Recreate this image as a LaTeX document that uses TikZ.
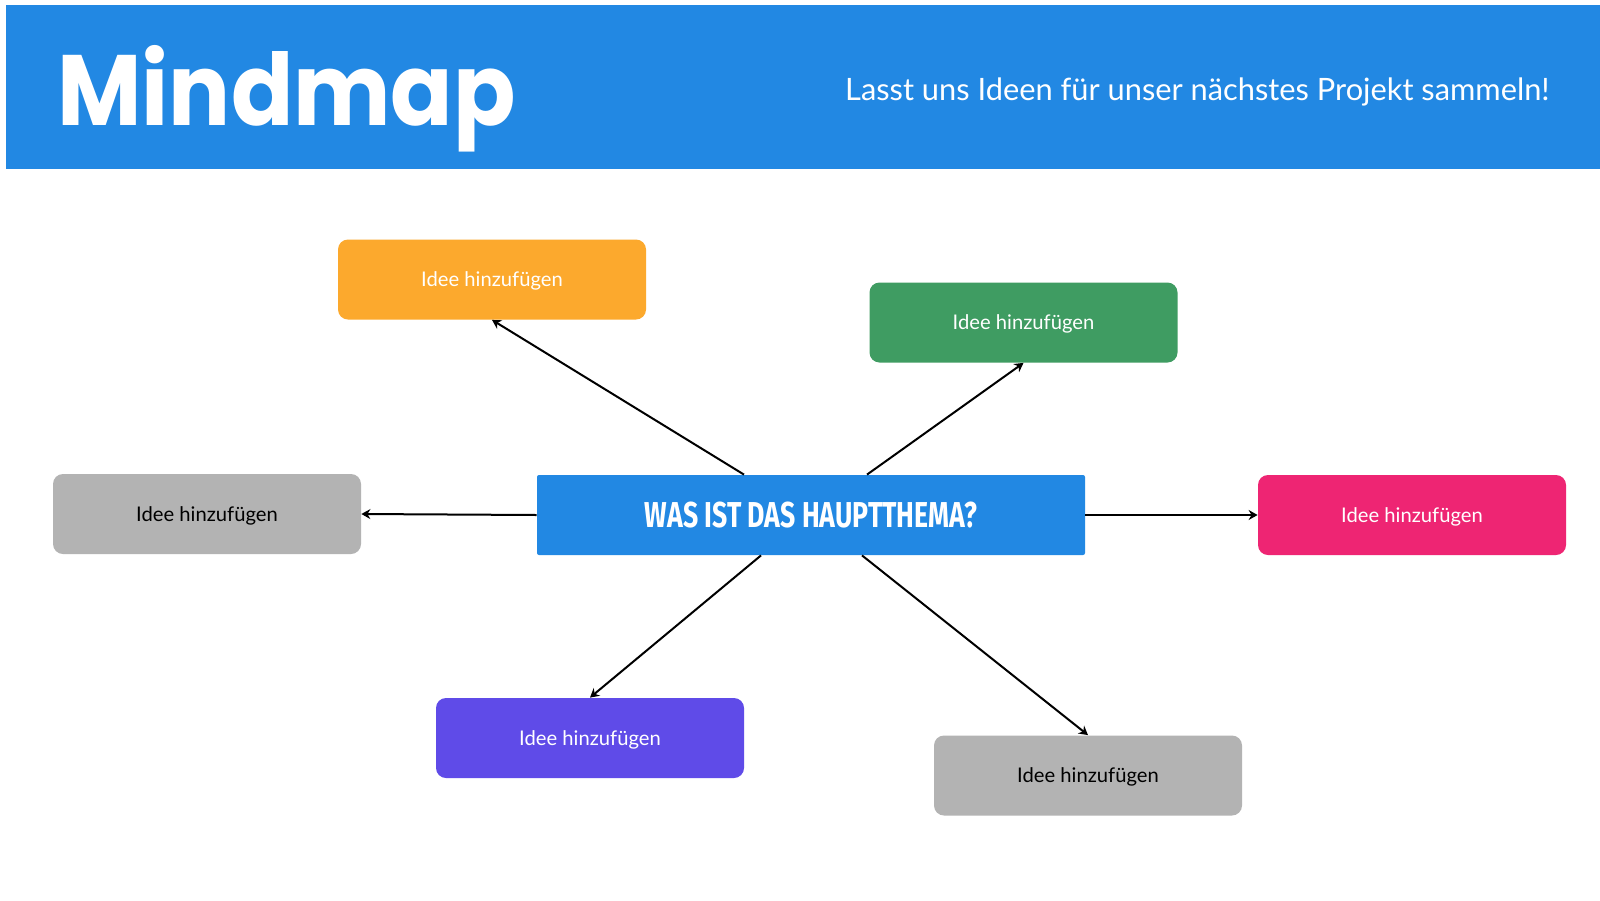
\documentclass[tikz,border=0pt]{standalone}
\usepackage{fontspec}
\setmainfont{Lato}
\newfontfamily\titlefont{Poppins}[FakeStretch=0.92]
\newfontfamily\subfont{Lato}
\newfontfamily\centerfont{Fira Sans}[FakeStretch=0.74]
\usetikzlibrary{arrows.meta,calc}
\definecolor{hdrblue}{HTML}{2288E3}
\definecolor{ideaorange}{HTML}{FCA92D}
\definecolor{ideagreen}{HTML}{3F9C62}
\definecolor{ideapink}{HTML}{EE2573}
\definecolor{ideapurple}{HTML}{5F4BE8}
\definecolor{ideagray}{HTML}{B3B3B3}
\tikzset{
  idea/.style={rectangle, rounded corners=5pt, minimum width=154pt, minimum height=40pt,
    inner sep=0pt, text depth=0pt, font=\fontsize{10.1}{12}\selectfont},
  centerbox/.style={rectangle, rounded corners=1pt, fill=hdrblue, text=white,
    minimum width=274pt, minimum height=40pt, inner sep=0pt,
    font=\centerfont\bfseries\fontsize{18}{20}\selectfont},
  conn/.style={line width=1pt, -{Stealth[length=4.5pt,width=5pt,inset=1.5pt]}}
}
\begin{document}
\begin{tikzpicture}[x=0.5pt,y=-0.5pt]
\useasboundingbox (0,0) rectangle (1600,900);
\fill[white] (0,0) rectangle (1600,900);
\fill[hdrblue] (6,5) rectangle (1600,169);
\node[anchor=base west, text=white, inner sep=0pt,
  font=\titlefont\bfseries\fontsize{50}{55}\selectfont] (title) at (57,125) {Mindmap};
\node[anchor=base east, text=white, inner sep=0pt,
  font=\subfont\fontsize{15.4}{18}\selectfont] (sub) at (1550,100) {Lasst uns Ideen für unser nächstes Projekt sammeln!};

\node[centerbox] (c) at (811,515) {WAS IST DAS HAUPTTHEMA?};

\node[idea, fill=ideaorange, text=white] (o) at (492,279.5) {Idee hinzufügen};
\node[idea, fill=ideagreen, text=white] (g) at (1023.5,322.5) {Idee hinzufügen};
\node[idea, fill=ideagray, text=black] (l) at (207,514) {Idee hinzufügen};
\node[idea, fill=ideapink, text=white] (p) at (1412,515) {Idee hinzufügen};
\node[idea, fill=ideapurple, text=white] (u) at (590,738) {Idee hinzufügen};
\node[idea, fill=ideagray, text=black] (r) at (1088,775.5) {Idee hinzufügen};

\draw[conn] ([xshift=-33.5pt]c.north) -- (o.south);
\draw[conn] ([xshift=28pt]c.north) -- (g.south);
\draw[conn] (c.west) -- (l.east);
\draw[conn] (c.east) -- (p.west);
\draw[conn] ([xshift=-25pt]c.south) -- (u.north);
\draw[conn] ([xshift=25.5pt]c.south) -- (r.north);
\end{tikzpicture}
\end{document}
